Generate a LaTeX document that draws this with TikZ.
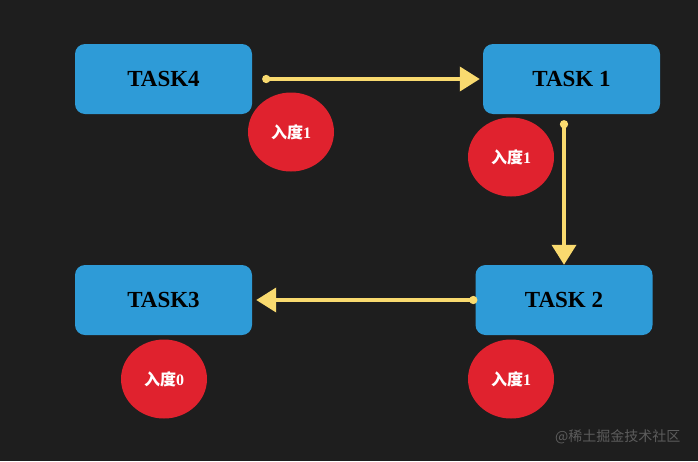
\documentclass[tikz,border=0pt]{standalone}
\usepackage{fontspec}
\setmainfont{Liberation Serif}
\newfontfamily\cjk{Noto Sans CJK SC}
\usepackage{xcolor}
\usetikzlibrary{arrows.meta,shapes.geometric}

\definecolor{bgdark}{HTML}{1E1E1E}
\definecolor{taskblue}{HTML}{2E9BD7}
\definecolor{degreered}{HTML}{E0222E}
\definecolor{edgeyellow}{HTML}{F9DA6F}
\definecolor{markgray}{HTML}{5C5C5C}

\tikzset{
    taskbox/.style={fill=taskblue, rounded corners=10pt, minimum width=177pt,
        minimum height=70pt, inner sep=0pt, font=\fontsize{23}{25}\selectfont\bfseries},
    degree/.style={ellipse, fill=degreered, minimum width=86pt, minimum height=79pt,
        inner sep=0pt, text=white, font=\fontsize{16}{18}\selectfont\bfseries},
    flow/.style={edgeyellow, line width=3.8pt, line cap=round,
        {Circle[length=8pt,width=8pt]}-{Triangle[length=20pt,width=24pt]}}
}

\begin{document}
\begin{tikzpicture}[x=1pt, y=-1pt]
    % background
    \fill[bgdark] (0,0) rectangle (698,461);
    \useasboundingbox (0,0) rectangle (698,461);

    % tasks
    \node[taskbox] (task4) at (163.5,79)  {TASK4};
    \node[taskbox] (task1) at (571.5,79)  {TASK 1};
    \node[taskbox] (task2) at (564,300)   {TASK 2};
    \node[taskbox] (task3) at (163.5,300) {TASK3};

    % in-degree badges
    \node[degree] (deg4) at (291,132) {{\cjk 入度}1};
    \node[degree] (deg1) at (511,157) {{\cjk 入度}1};
    \node[degree] (deg2) at (511,379) {{\cjk 入度}1};
    \node[degree] (deg3) at (164,379) {{\cjk 入度}0};

    % edges
    \draw[flow, shorten <=10pt, shorten >=3pt] (task4.east) -- (task1.west);
    \draw[flow, shorten <=6pt] (task1.south -| task2.north) -- (task2.north);
    \draw[flow, shorten <=-2pt, shorten >=4pt] (task2.west) -- (task3.east);

    % watermark
    \node[text=markgray, font=\fontsize{14}{16}\selectfont\cjk, anchor=east]
        (mark) at (684,437) {@稀土掘金技术社区};
\end{tikzpicture}
\end{document}
